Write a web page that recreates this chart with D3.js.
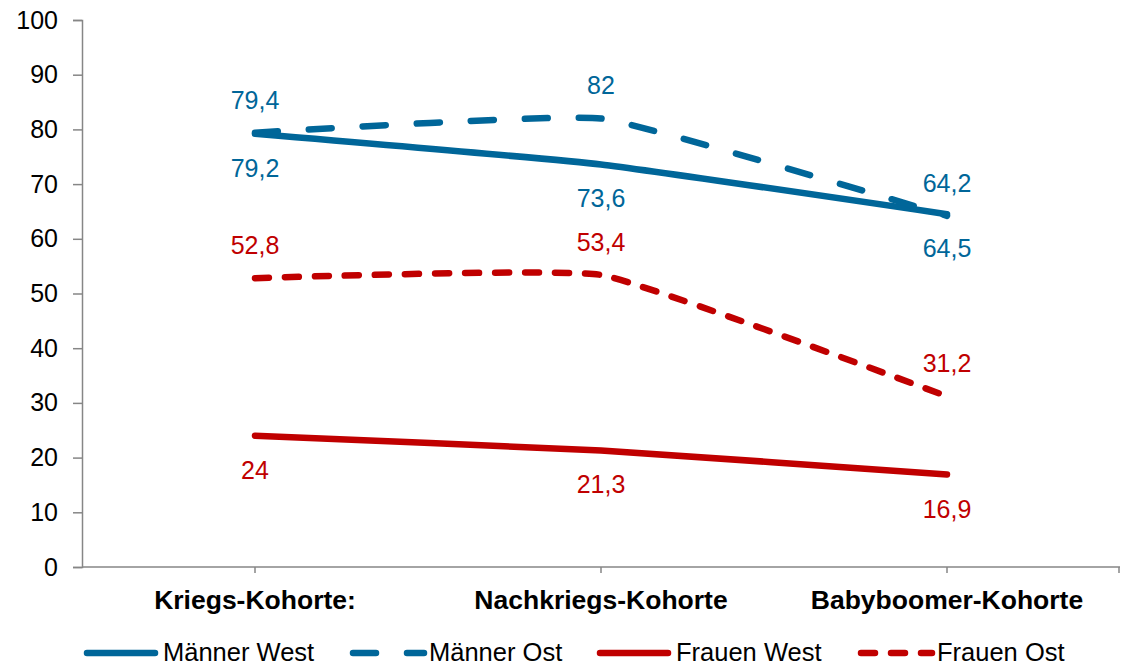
<!DOCTYPE html>
<html><head><meta charset="utf-8">
<script src="https://cdn.jsdelivr.net/npm/d3@7"></script>
<style>body{margin:0;background:#fff}svg{display:block;font-family:"Liberation Sans",Arial,sans-serif}</style>
</head><body><svg id="c" width="1124" height="667"></svg>
<script>
const categories = ["Kriegs-Kohorte:", "Nachkriegs-Kohorte", "Babyboomer-Kohorte"];
const seriesNames = ["Männer West", "Männer Ost", "Frauen West", "Frauen Ost"];
const maennerWest = [79.2, 73.6, 64.5];
const maennerOst = [79.4, 82, 64.2];
const frauenWest = [24, 21.3, 16.9];
const frauenOst = [52.8, 53.4, 31.2];
const yTicks = [0, 10, 20, 30, 40, 50, 60, 70, 80, 90, 100];

const seriesValues = [maennerWest, maennerOst, frauenWest, frauenOst];
const styles = [
  {color: "#006699", dash: null, side: "below"},
  {color: "#006699", dash: "23,31", side: "above"},
  {color: "#C00000", dash: null, side: "below"},
  {color: "#C00000", dash: "14,16", side: "above"}
];

const svg = d3.select("#c");
const x = d3.scaleBand().domain(categories).range([82, 1120]);
const y = d3.scaleLinear().domain([0, 100]).range([567, 20]);
const cx = c => x(c) + x.bandwidth() / 2;
const axisColor = "#868686";

// Y axis
const ya = svg.append("g").attr("transform", "translate(82,0)")
  .call(d3.axisLeft(y).tickValues(yTicks).tickSize(9).tickPadding(15).tickFormat(d3.format("d")));
ya.select(".domain").attr("stroke", axisColor).attr("stroke-width", 1.5);
ya.selectAll(".tick line").attr("stroke", axisColor).attr("stroke-width", 1.5);
ya.selectAll(".tick text").attr("font-size", 25).attr("fill", "#000").attr("font-family", "Liberation Sans, Arial, sans-serif");

// X axis
const xa = svg.append("g").attr("transform", "translate(0,567)")
  .call(d3.axisBottom(x).tickSize(0).tickPadding(0));
xa.select(".domain").attr("stroke", axisColor).attr("stroke-width", 1.5).attr("d", "M82,0H1120");
xa.selectAll(".tick line").remove();
xa.selectAll(".tick text").remove();
const xt = svg.append("g");
xt.selectAll("line").data(categories.map(cx).concat([1119])).join("line")
  .attr("x1", d => d).attr("x2", d => d).attr("y1", 567).attr("y2", 573)
  .attr("stroke", axisColor).attr("stroke-width", 1.5);
xt.selectAll("text").data(categories).join("text")
  .attr("x", d => cx(d)).attr("y", 609).attr("text-anchor", "middle")
  .attr("font-size", 26.5).attr("font-weight", "bold").attr("fill", "#000").text(d => d);

// Lines
const line = d3.line().x((d, i) => cx(categories[i])).y(d => y(d)).curve(d3.curveCardinal.tension(0.65));
seriesValues.forEach((vals, si) => {
  const st = styles[si];
  svg.append("path").datum(vals).attr("d", line)
    .attr("fill", "none").attr("stroke", st.color).attr("stroke-width", 6.5)
    .attr("stroke-linecap", "round").attr("stroke-linejoin", "round")
    .attr("stroke-dasharray", st.dash);
});

// Data labels
const fmt = v => String(v).replace(".", ",");
seriesValues.forEach((vals, si) => {
  const st = styles[si];
  svg.append("g").selectAll("text").data(vals).join("text")
    .attr("x", (d, i) => cx(categories[i]))
    .attr("y", d => st.side === "above" ? y(d) - 24 : y(d) + 43)
    .attr("text-anchor", "middle").attr("font-size", 25).attr("fill", st.color)
    .text(fmt);
});

// Legend
const legX = [87, 353, 600, 861];
const lg = svg.append("g");
seriesNames.forEach((name, si) => {
  const st = styles[si];
  const x0 = legX[si];
  lg.append("line").attr("x1", x0).attr("x2", x0 + (st.dash ? 71 : 68)).attr("y1", 653).attr("y2", 653)
    .attr("stroke", st.color).attr("stroke-width", 6.5).attr("stroke-linecap", "round")
    .attr("stroke-dasharray", st.dash);
  lg.append("text").attr("x", x0 + 76).attr("y", 661).attr("font-size", 25.5).attr("fill", "#000").text(name);
});
</script></body></html>
